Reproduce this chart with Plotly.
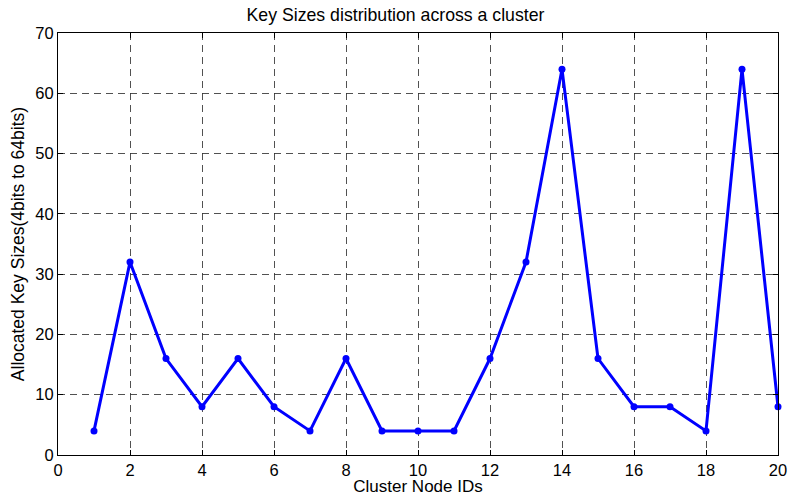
import plotly.graph_objects as go

node_ids = list(range(1, 21))
key_sizes = [4, 32, 16, 8, 16, 8, 4, 16, 4, 4, 4, 16, 32, 64, 16, 8, 8, 4, 64, 8]
x_ticks = [0, 2, 4, 6, 8, 10, 12, 14, 16, 18, 20]
y_ticks = [0, 10, 20, 30, 40, 50, 60, 70]

FONT = "Arial, Liberation Sans, sans-serif"

fig = go.Figure()
fig.add_trace(go.Scatter(
    x=node_ids, y=key_sizes, mode="lines+markers",
    line=dict(color="#0000ff", width=3),
    marker=dict(color="#0000ff", size=7, symbol="circle"),
    cliponaxis=False, showlegend=False,
))

axis_common = dict(
    showline=True, linecolor="black", linewidth=1, mirror="ticks",
    ticks="inside", ticklen=5, tickcolor="black",
    showgrid=True, gridcolor="rgba(50,50,50,0.85)", gridwidth=1, griddash="7px,5px",
    zeroline=False, automargin=False,
    tickfont=dict(family=FONT, size=16.5, color="black"),
)

fig.update_xaxes(range=[0, 20], tickvals=x_ticks, title_text="Cluster Node IDs",
                 title_standoff=9, title_font=dict(family=FONT, size=17, color="black"),
                 **axis_common)
fig.update_yaxes(range=[0, 70], tickvals=y_ticks, title_text="Allocated Key Sizes(4bits to 64bits)",
                 title_standoff=6, title_font=dict(family=FONT, size=17.5, color="black"),
                 **axis_common)

fig.update_layout(
    width=791, height=496,
    margin=dict(l=58, r=13, t=33, b=41),
    paper_bgcolor="white", plot_bgcolor="white",
    title=dict(text="Key Sizes distribution across a cluster", x=0.5, xanchor="center",
               y=1 - 15 / 496, yanchor="middle", automargin=False,
               font=dict(family=FONT, size=17.7, color="black")),
)

# remove the default 8px page margin so the figure sits at the window's top-left corner
fig.write_html("out.html", config={"displayModeBar": False},
               post_script="document.body.style.margin='0';")
